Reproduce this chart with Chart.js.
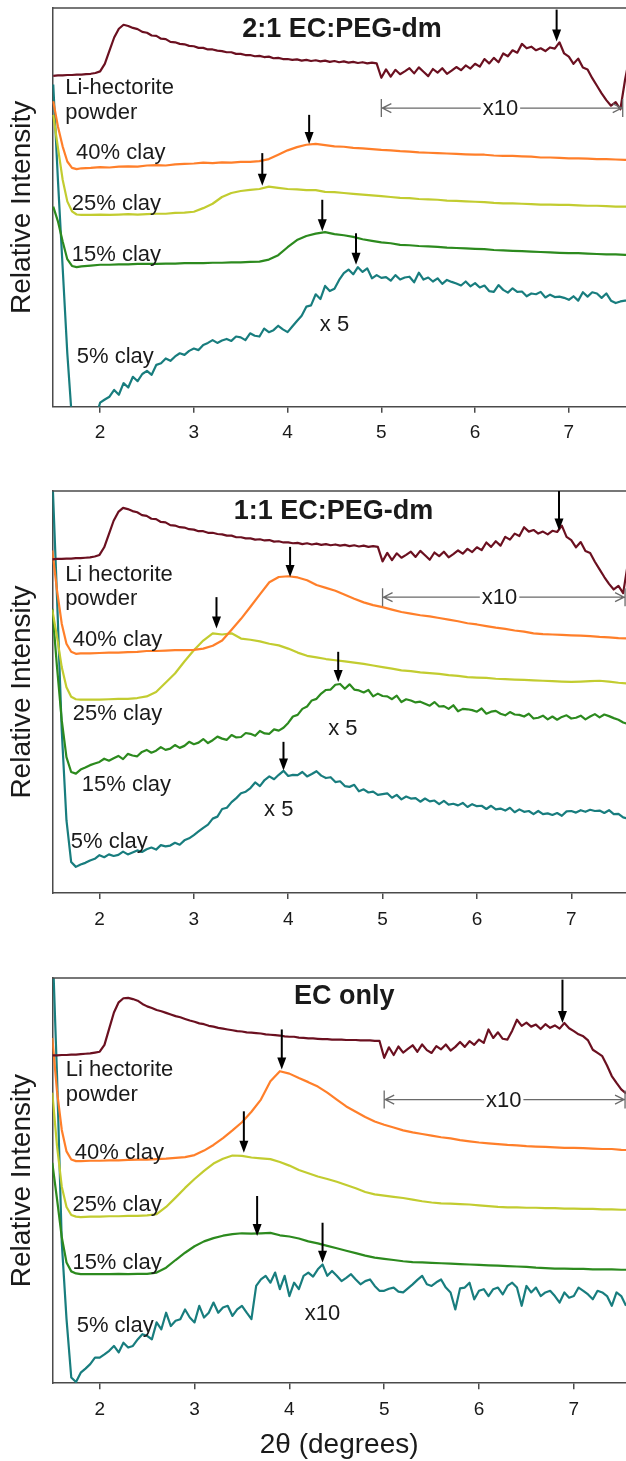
<!DOCTYPE html>
<html>
<head>
<meta charset="utf-8">
<script src="https://cdn.jsdelivr.net/npm/chart.js@4.4.1/dist/chart.umd.min.js"></script>
<style>
  html, body { margin: 0; padding: 0; background: #fff; }
  #wrap { position: relative; width: 626px; height: 1461px; overflow: hidden; }
  .panel { position: absolute; left: 0; width: 626px; }
  #p1 { top: 0; height: 455px; }
  #p2 { top: 480px; height: 460px; }
  #p3 { top: 960px; height: 501px; }
</style>
</head>
<body>
<div id="wrap">
  <div class="panel" id="p1"><canvas id="c1"></canvas></div>
  <div class="panel" id="p2"><canvas id="c2"></canvas></div>
  <div class="panel" id="p3"><canvas id="c3"></canvas></div>
</div>
<script>
// --- x grids (2theta, degrees) ---
const X_FINE = [
  1.50, 1.55, 1.60, 1.65, 1.70, 1.75, 1.80, 1.85, 1.90, 1.95,
  2.00, 2.05, 2.10, 2.15, 2.20, 2.25, 2.30, 2.35, 2.40, 2.45,
  2.50, 2.55, 2.60, 2.65, 2.70, 2.75, 2.80, 2.85, 2.90, 2.95,
  3.00, 3.05, 3.10, 3.15, 3.20, 3.25, 3.30, 3.35, 3.40, 3.45,
  3.50, 3.55, 3.60, 3.65, 3.70, 3.75, 3.80, 3.85, 3.90, 3.95,
  4.00, 4.05, 4.10, 4.15, 4.20, 4.25, 4.30, 4.35, 4.40, 4.45,
  4.50, 4.55, 4.60, 4.65, 4.70, 4.75, 4.80, 4.85, 4.90, 4.95,
  5.00, 5.05, 5.10, 5.15, 5.20, 5.25, 5.30, 5.35, 5.40, 5.45,
  5.50, 5.55, 5.60, 5.65, 5.70, 5.75, 5.80, 5.85, 5.90, 5.95,
  6.00, 6.05, 6.10, 6.15, 6.20, 6.25, 6.30, 6.35, 6.40, 6.45,
  6.50, 6.55, 6.60, 6.65, 6.70, 6.75, 6.80, 6.85, 6.90, 6.95,
  7.00, 7.05, 7.10, 7.15, 7.20, 7.25, 7.30, 7.35, 7.40, 7.45,
  7.50, 7.55, 7.60, 7.65
];
const X_SMOOTH = [
  1.5, 1.55, 1.6, 1.65, 1.7, 1.75, 1.8,
  1.9, 2.0, 2.1, 2.2, 2.3, 2.4, 2.5, 2.6, 2.7, 2.8, 2.9,
  3.0, 3.1, 3.2, 3.3, 3.4, 3.5, 3.6, 3.7, 3.8, 3.9,
  4.0, 4.1, 4.2, 4.3, 4.4, 4.5, 4.6, 4.7, 4.8, 4.9,
  5.0, 5.1, 5.2, 5.3, 5.4, 5.5, 5.6, 5.7, 5.8, 5.9,
  6.0, 6.1, 6.2, 6.3, 6.4, 6.5, 6.6, 6.7, 6.8, 6.9,
  7.0, 7.1, 7.2, 7.3, 7.4, 7.5, 7.6, 7.7
];
const X_TICKS = [2, 3, 4, 5, 6, 7];

// --- Li-hectorite powder (x10 above 5 deg) ---
const LI_P12 = [
  83.0, 83.1, 83.1, 83.2, 83.2, 83.3, 83.3, 83.4, 83.5, 83.7,
  84.1, 86.0, 89.3, 92.6, 94.8, 95.8, 95.5, 95.0, 94.7, 94.0,
  93.8, 93.1, 93.0, 92.3, 92.2, 91.5, 91.4, 91.0, 90.9, 90.5,
  90.4, 90.0, 90.0, 89.6, 89.6, 89.3, 89.2, 88.9, 88.9, 88.5,
  88.5, 88.2, 88.2, 87.9, 88.0, 87.7, 87.8, 87.4, 87.5, 87.2,
  87.2, 87.0, 87.1, 86.8, 87.0, 86.7, 86.9, 86.6, 86.8, 86.5,
  86.7, 86.4, 86.6, 86.3, 86.5, 86.2, 86.4, 86.1, 86.3, 86.1,
  82.5, 84.6, 82.8, 84.5, 83.4, 84.1, 84.9, 83.6, 85.1, 84.0,
  82.9, 84.7, 83.8, 84.9, 83.5, 84.3, 85.2, 84.4, 85.6, 84.8,
  86.0, 85.3, 87.2, 86.1, 87.5, 86.4, 88.6, 87.9, 89.4, 88.8,
  91.0, 89.9, 90.3, 89.4, 89.9, 89.2, 90.1, 89.8, 91.4, 88.6,
  87.8, 86.0, 87.3, 85.1, 84.6, 82.4, 80.5, 78.6, 76.9, 75.5,
  76.4, 74.6, 82.0, 88.0
];
const LI_P3 = [
  80.9, 80.9, 81.0, 81.0, 81.1, 81.1, 81.2, 81.3, 81.4, 81.6,
  81.8, 83.5, 87.5, 91.5, 94.0, 95.0, 95.1, 94.8, 94.4, 93.6,
  93.0, 92.6, 92.1, 91.8, 91.4, 91.0, 90.6, 90.3, 89.9, 89.5,
  89.2, 88.8, 88.6, 88.2, 88.0, 87.7, 87.5, 87.3, 87.1, 86.9,
  86.8, 86.6, 86.5, 86.4, 86.3, 86.1, 86.0, 85.9, 85.8, 85.6,
  85.5, 85.5, 85.3, 85.2, 85.1, 85.1, 85.0, 84.9, 84.9, 84.8,
  84.8, 84.8, 84.7, 84.7, 84.7, 84.6, 84.6, 84.6, 84.5, 84.5,
  80.3, 82.9, 81.0, 83.1, 81.6, 82.5, 83.4, 81.8, 83.6, 82.2,
  81.5, 83.2, 82.4, 83.6, 82.1, 83.0, 84.2, 83.0, 84.4, 83.5,
  84.8, 84.0, 87.3, 85.2, 86.6, 85.0, 84.8, 87.0, 89.7, 88.2,
  89.0, 88.0, 88.5, 87.4, 88.6, 87.7, 88.3, 87.5, 88.9, 87.6,
  86.9, 86.1, 85.6, 84.6, 82.3, 81.5, 80.7, 78.4, 75.8, 74.1,
  72.5, 71.5, 70.5, 70.0
];

// --- 2:1 EC:PEG-dm ---
const P1_40 = [
  76.6, 70.3, 65.3, 61.5, 59.9, 59.6, 59.8,
  59.9, 60.1, 60.0, 60.2, 60.3, 60.2, 60.5, 60.6, 60.5, 60.8, 60.9,
  61.0, 61.2, 61.1, 61.3, 61.2, 61.4, 61.4, 61.6, 62.1, 63.2,
  64.3, 65.1, 65.7, 65.9, 65.6, 65.3, 65.2, 64.9, 64.8, 64.6,
  64.4, 64.3, 64.1, 64.0, 63.8, 63.7, 63.6, 63.5, 63.4, 63.3,
  63.2, 63.2, 63.0, 62.9, 62.9, 62.8, 62.7, 62.5, 62.5, 62.4,
  62.3, 62.3, 62.2, 62.1, 62.1, 62.0, 61.9, 61.9
];
const P1_25 = [
  73.2, 65.0, 57.0, 51.5, 49.0, 48.2, 48.1,
  48.1, 48.2, 48.1, 48.2, 48.3, 48.2, 48.3, 48.4, 48.4, 48.6, 48.7,
  48.9, 49.8, 50.9, 52.6, 53.6, 54.1, 54.4, 54.6, 55.2, 54.9,
  54.6, 54.5, 54.3, 54.3, 53.9, 53.8, 53.6, 53.4, 53.2, 53.0,
  52.8, 52.6, 52.4, 52.3, 52.1, 52.0, 51.9, 51.7, 51.6, 51.5,
  51.4, 51.3, 51.1, 51.0, 51.0, 50.9, 50.8, 50.7, 50.7, 50.6,
  50.6, 50.5, 50.4, 50.4, 50.3, 50.2, 50.2, 50.1
];
const P1_15 = [
  50.2, 46.5, 41.5, 37.0, 35.3, 35.0, 35.2,
  35.4, 35.6, 35.6, 35.7, 35.7, 35.8, 35.8, 35.8, 35.9, 35.9, 36.0,
  36.0, 36.0, 36.1, 36.1, 36.2, 36.2, 36.3, 36.4, 36.9, 38.0,
  40.0, 41.8, 42.8, 43.4, 43.8, 43.3, 43.0, 42.6, 42.0, 41.6,
  41.2, 41.0, 40.6, 40.5, 40.3, 40.2, 40.1, 39.9, 39.8, 39.7,
  39.6, 39.5, 39.3, 39.2, 39.1, 39.0, 38.9, 38.8, 38.7, 38.6,
  38.5, 38.5, 38.4, 38.3, 38.2, 38.2, 38.1, 38.1
];
const P1_5 = [
  80.8, 56.9, 35.1, 13.4, -3.3, -8.0, -10.0, -10.0, -8.0, -3.0,
  1.0, 1.8, 2.5, 4.2, 3.0, 5.9, 4.8, 7.5, 6.4, 8.2,
  9.0, 8.0, 10.5, 10.9, 12.1, 11.5, 12.6, 13.4, 13.0, 14.0,
  14.6, 14.2, 15.5, 16.0, 16.7, 16.0, 16.6, 17.0, 16.5, 17.6,
  17.4, 16.7, 18.4, 17.8, 17.6, 19.6, 18.7, 19.2, 20.3, 19.4,
  18.7, 20.1, 21.5, 22.8, 25.1, 25.4, 28.2, 27.0, 30.3, 29.0,
  29.6, 31.8, 33.5, 34.4, 33.2, 35.0, 33.8, 34.7, 32.2, 33.0,
  32.3, 32.5, 31.6, 33.0, 31.9, 32.4, 32.6, 31.2, 33.6, 31.9,
  32.4, 31.4, 32.2, 30.8, 31.8, 31.3, 30.9, 30.4, 31.4, 30.2,
  31.0, 29.9, 30.4, 29.0, 28.8, 30.5, 29.3, 28.6, 29.7, 28.8,
  28.9, 27.7, 28.4, 28.2, 28.8, 27.4, 28.1, 27.5, 27.6, 27.3,
  26.8, 27.7, 26.6, 28.7, 27.6, 28.7, 28.4, 27.3, 28.4, 26.6,
  26.0, 26.4, 26.6, 26.5
];

// --- 1:1 EC:PEG-dm ---
const P2_40 = [
  85.2, 75.3, 67.0, 62.0, 60.0, 59.5, 59.6,
  59.6, 59.7, 59.8, 59.8, 59.9, 60.0, 60.2, 60.2, 60.3, 60.4, 60.4,
  60.5, 60.8, 61.5, 62.8, 65.5, 68.2, 71.2, 74.3, 77.3, 78.6,
  78.8, 78.5, 77.8, 76.6, 75.9, 75.2, 74.2, 73.2, 72.3, 71.6,
  71.1, 70.5, 69.9, 69.5, 69.1, 68.8, 68.4, 68.0, 67.6, 67.1,
  66.8, 66.4, 66.0, 65.7, 65.3, 65.0, 64.6, 64.4, 64.3, 64.2,
  64.1, 64.0, 63.9, 63.7, 63.6, 63.4, 63.3, 63.2
];
const P2_25 = [
  70.5, 63.7, 56.2, 51.2, 48.8, 48.2, 48.1,
  48.1, 48.1, 48.2, 48.3, 48.3, 48.5, 48.9, 50.0, 52.3, 54.6, 57.6,
  60.4, 62.8, 64.6, 64.3, 64.6, 63.3, 63.0, 62.6, 62.0, 61.6,
  60.8, 59.8, 59.0, 58.6, 58.2, 57.9, 57.6, 57.3, 57.0, 56.6,
  56.2, 55.8, 55.4, 55.2, 54.9, 54.7, 54.5, 54.2, 54.0, 53.7,
  53.6, 53.5, 53.3, 53.2, 53.1, 53.0, 52.9, 52.8, 52.7, 52.6,
  52.5, 52.6, 52.7, 52.8, 52.6, 52.3, 52.1, 52.0
];
const P2_15 = [
  70.7, 56.2, 43.0, 33.8, 30.1, 29.7, 30.7, 31.2, 31.8, 32.2,
  32.6, 33.4, 32.9, 33.5, 34.1, 33.3, 34.6, 34.2, 34.0, 35.1,
  35.6, 34.9, 35.4, 36.3, 35.6, 35.9, 36.8, 36.1, 36.6, 37.6,
  37.0, 37.4, 38.3, 37.3, 38.0, 38.9, 38.4, 38.1, 39.3, 38.7,
  38.8, 39.8, 39.6, 39.1, 40.3, 39.7, 39.6, 40.7, 40.4, 41.1,
  42.3, 43.9, 44.3, 45.8, 46.4, 47.9, 48.3, 49.6, 50.5, 50.6,
  51.8, 52.0, 50.8, 51.9, 50.6, 50.4, 49.9, 50.5, 48.9, 49.6,
  49.0, 48.9, 48.2, 49.1, 47.5, 48.2, 47.9, 47.4, 47.6, 47.1,
  46.6, 47.5, 46.4, 46.5, 45.8, 46.7, 45.2, 45.8, 45.7, 45.5,
  45.1, 45.9, 44.6, 45.1, 45.3, 44.6, 44.2, 45.0, 44.4, 44.3,
  43.9, 44.6, 43.4, 43.6, 44.1, 43.2, 43.9, 43.1, 43.8, 44.2,
  43.4, 43.6, 44.1, 43.2, 43.9, 44.5, 43.7, 44.4, 44.0, 43.5,
  43.1, 42.4, 42.1, 42.0
];
const P2_5 = [
  104.0, 73.6, 40.5, 18.1, 7.7, 6.5, 7.1, 7.5, 8.1, 8.5,
  9.4, 8.9, 9.6, 9.2, 9.5, 10.3, 9.6, 10.1, 10.6, 10.2,
  10.9, 11.3, 10.8, 11.9, 11.6, 11.8, 12.5, 12.0, 13.1, 13.6,
  14.4, 15.3, 16.2, 17.0, 18.5, 19.0, 20.9, 21.2, 22.6, 23.6,
  24.8, 25.2, 26.1, 27.5, 26.6, 28.1, 29.0, 28.3, 29.4, 30.4,
  29.1, 29.4, 29.3, 30.1, 29.0, 29.6, 30.3, 29.2, 28.6, 28.8,
  27.6, 27.8, 26.6, 26.4, 26.9, 25.3, 25.8, 25.0, 25.2, 24.4,
  24.6, 24.8, 23.7, 24.4, 23.3, 24.0, 23.5, 23.6, 22.7, 23.5,
  22.8, 23.0, 22.1, 22.9, 22.0, 22.2, 21.8, 22.4, 21.4, 22.1,
  21.6, 21.7, 20.9, 21.7, 20.8, 21.0, 20.5, 21.2, 20.1, 20.8,
  20.2, 20.4, 19.6, 20.4, 19.6, 19.8, 19.4, 19.9, 19.2, 20.3,
  20.4, 20.0, 20.6, 20.2, 20.7, 20.4, 20.5, 19.9, 20.6, 19.6,
  19.7, 18.8, 18.5, 18.6
];

// --- EC only ---
const P3_40 = [
  85.2, 72.0, 62.5, 57.2, 55.2, 54.8, 54.8,
  54.9, 54.9, 55.0, 55.0, 55.1, 55.2, 55.2, 55.3, 55.4, 55.6, 55.8,
  56.3, 57.4, 58.8, 60.5, 62.4, 64.4, 67.0, 70.0, 74.5, 77.0,
  76.4, 75.3, 74.3, 73.2, 71.7, 70.0, 68.3, 67.0, 65.7, 64.6,
  63.8, 63.1, 62.4, 61.9, 61.5, 61.1, 60.7, 60.4, 60.0, 59.7,
  59.4, 59.2, 59.0, 58.8, 58.7, 58.5, 58.4, 58.3, 58.2, 58.1,
  58.1, 58.0, 57.9, 57.8, 57.8, 57.6, 57.5, 57.4
];
const P3_25 = [
  71.7, 58.5, 48.5, 43.5, 41.5, 41.1, 41.0,
  41.1, 41.1, 41.2, 41.2, 41.3, 41.3, 41.4, 41.7, 43.5, 45.8, 48.2,
  50.4, 52.4, 54.2, 55.4, 56.2, 56.1, 55.7, 55.5, 55.3, 54.6,
  53.7, 52.6, 51.8, 51.0, 50.4, 49.7, 48.9, 48.1, 47.2, 46.6,
  46.3, 46.0, 45.7, 45.3, 44.9, 44.6, 44.4, 44.3, 44.2, 44.1,
  43.9, 43.7, 43.5, 43.4, 43.4, 43.3, 43.3, 43.2, 43.2, 43.1,
  43.1, 43.0, 43.0, 42.9, 42.9, 42.8, 42.8, 42.7
];
const P3_15 = [
  54.4, 45.4, 36.0, 29.8, 27.6, 27.1, 26.9,
  26.9, 26.9, 26.9, 27.0, 26.9, 27.0, 27.0, 27.3, 28.5, 30.4, 32.2,
  33.8, 35.0, 35.8, 36.4, 36.8, 37.0, 36.9, 37.0, 37.1, 36.5,
  36.2, 35.7, 35.0, 34.5, 33.9, 33.3, 32.7, 32.1, 31.5, 31.0,
  30.7, 30.4, 30.1, 29.9, 29.8, 29.7, 29.6, 29.5, 29.4, 29.3,
  29.2, 29.1, 29.0, 28.9, 28.8, 28.7, 28.5, 28.4, 28.3, 28.3,
  28.2, 28.2, 28.1, 28.1, 28.1, 28.0, 28.0, 28.0
];
const P3_5 = [
  110.0, 75.8, 34.7, 15.8, 1.4, 0.3, 2.6, 3.6, 4.7, 6.3,
  6.3, 7.1, 8.0, 9.2, 7.6, 10.0, 8.8, 9.2, 10.8, 12.1,
  11.7, 10.8, 15.0, 13.3, 17.4, 14.1, 15.4, 15.8, 18.2, 16.2,
  15.0, 19.1, 16.2, 17.4, 19.9, 17.4, 18.7, 19.1, 16.6, 18.2,
  19.1, 17.4, 15.8, 24.0, 25.6, 26.5, 24.8, 27.3, 23.2, 26.5,
  21.5, 24.8, 23.2, 26.5, 27.3, 26.3, 28.1, 29.3, 26.5, 27.7,
  26.5, 25.2, 26.0, 26.9, 25.6, 24.4, 25.2, 25.6, 24.0, 22.8,
  22.8, 23.3, 23.6, 22.6, 22.4, 23.4, 24.4, 25.5, 26.5, 24.4,
  24.0, 24.9, 25.6, 23.6, 22.4, 18.2, 23.4, 23.6, 24.8, 20.7,
  22.8, 23.2, 21.5, 23.2, 23.6, 21.9, 24.0, 24.8, 23.6, 19.1,
  24.0, 22.4, 23.6, 21.5, 22.4, 22.8, 21.5, 19.9, 22.4, 21.1,
  21.5, 23.6, 22.8, 21.9, 20.7, 22.8, 22.4, 21.5, 19.1, 22.4,
  21.5, 19.1, 20.7, 20.7
];

// --- annotations (data units): [x, arrow top, arrow tip] ---
const ARROWS_P1 = [[6.87, 99.6, 91.6], [4.23, 73.2, 65.9], [3.73, 63.6, 55.4], [4.37, 51.9, 44.0], [4.73, 43.5, 35.6]];
const ARROWS_P2 = [[6.87, 100, 90.2], [4.02, 86.1, 78.6], [3.24, 73.6, 65.8], [4.53, 60.0, 52.5], [3.95, 37.6, 30.5]];
const ARROWS_P3 = [[6.88, 99.6, 88.9], [3.92, 87.3, 77.4], [3.52, 67.1, 56.9], [3.66, 46.2, 36.3], [4.35, 39.6, 29.7]];

const LABELS_P1 = [['Li-hectorite', 1.627, 79.9], ['powder', 1.627, 73.6], ['40% clay', 1.744, 63.6], ['25% clay', 1.698, 50.9], ['15% clay', 1.698, 38.1], ['5% clay', 1.751, 12.6]];
const LABELS_P2 = [['Li hectorite', 1.636, 79.0], ['powder', 1.636, 73.2], ['40% clay', 1.718, 62.9], ['25% clay', 1.718, 44.6], ['15% clay', 1.813, 26.8], ['5% clay', 1.696, 12.7]];
const LABELS_P3 = [['Li hectorite', 1.641, 77.4], ['powder', 1.641, 71.2], ['40% clay', 1.736, 56.9], ['25% clay', 1.712, 44.1], ['15% clay', 1.712, 29.7], ['5% clay', 1.757, 14.1]];

const NOTES_P1 = [['x 5', 4.50, 20.5]];
const NOTES_P2 = [['x 5', 4.58, 40.9], ['x 5', 3.90, 20.6]];
const NOTES_P3 = [['x10', 4.35, 17.0]];

const TITLES = ['2:1 EC:PEG-dm', '1:1 EC:PEG-dm', 'EC only'];
const TITLE_POS = [[4.58, 94.6], [4.48, 94.8], [4.58, 95.5]];

const COLORS = { li: '#6b1020', c40: '#ff7f2a', c25: '#c2cc30', c15: '#2c8a1e', c5: '#187d7e' };
const AXIS_COLOR = '#4a4a4a';
const FONT = "'Liberation Sans', Arial, sans-serif";

Chart.defaults.font.family = FONT;
Chart.defaults.color = '#1a1a1a';

function pts(xs, ys) {
  return ys.map((v, i) => ({ x: xs[i], y: v }));
}

// draws top frame, arrows, the x10 bracket and the text labels
const annotatePlugin = {
  id: 'annotate',
  afterDatasetsDraw(chart, args, opts) {
    const { ctx, chartArea: a, scales: { x, y } } = chart;
    ctx.save();
    ctx.strokeStyle = AXIS_COLOR;
    ctx.lineWidth = 1.5;
    ctx.beginPath();
    ctx.moveTo(a.left, a.top);
    ctx.lineTo(a.right, a.top);
    ctx.stroke();

    // x10 bracket
    const b = opts.bracket;
    const by = y.getPixelForValue(b.y);
    const bx1 = x.getPixelForValue(b.from);
    const bx2 = x.getPixelForValue(b.to);
    ctx.strokeStyle = '#6a6a6a';
    ctx.lineWidth = 1.3;
    ctx.beginPath();
    ctx.moveTo(bx1, by); ctx.lineTo(bx2, by);
    ctx.moveTo(bx1, by - 9); ctx.lineTo(bx1, by + 9);
    ctx.moveTo(bx2, by - 9); ctx.lineTo(bx2, by + 9);
    ctx.moveTo(bx1 + 10, by - 4.5); ctx.lineTo(bx1 + 1, by); ctx.lineTo(bx1 + 10, by + 4.5);
    ctx.moveTo(bx2 - 10, by - 4.5); ctx.lineTo(bx2 - 1, by); ctx.lineTo(bx2 - 10, by + 4.5);
    ctx.stroke();
    ctx.font = '22px ' + FONT;
    const tx = x.getPixelForValue(b.labelX);
    const tw = ctx.measureText(b.label).width;
    ctx.fillStyle = '#fff';
    ctx.fillRect(tx - tw / 2 - 2, by - 3, tw + 4, 6);
    ctx.fillStyle = '#1a1a1a';
    ctx.textAlign = 'center';
    ctx.textBaseline = 'middle';
    ctx.fillText(b.label, tx, by + 1);

    // peak arrows
    opts.arrows.forEach(([ax, yTop, yTip]) => {
      const px = x.getPixelForValue(ax);
      const p1 = y.getPixelForValue(yTop);
      const p2 = y.getPixelForValue(yTip);
      ctx.strokeStyle = '#000';
      ctx.lineWidth = 2;
      ctx.beginPath();
      ctx.moveTo(px, p1);
      ctx.lineTo(px, p2 - 9);
      ctx.stroke();
      ctx.fillStyle = '#000';
      ctx.beginPath();
      ctx.moveTo(px - 4.5, p2 - 12);
      ctx.lineTo(px + 4.5, p2 - 12);
      ctx.lineTo(px, p2);
      ctx.closePath();
      ctx.fill();
    });

    // curve labels
    ctx.fillStyle = '#1a1a1a';
    ctx.font = '22px ' + FONT;
    ctx.textBaseline = 'middle';
    ctx.textAlign = 'left';
    opts.labels.forEach(([t, lx, ly]) => ctx.fillText(t, x.getPixelForValue(lx), y.getPixelForValue(ly)));
    ctx.textAlign = 'center';
    opts.notes.forEach(([t, lx, ly]) => ctx.fillText(t, x.getPixelForValue(lx), y.getPixelForValue(ly)));

    // panel title
    ctx.font = 'bold 27px ' + FONT;
    ctx.fillText(opts.title, x.getPixelForValue(opts.titlePos[0]), y.getPixelForValue(opts.titlePos[1]));
    ctx.restore();
  }
};

function makeChart(canvasId, p) {
  const scaleX = {
    type: 'linear',
    min: p.xMin,
    max: p.xMax,
    afterBuildTicks: (scale) => { scale.ticks = X_TICKS.map(v => ({ value: v })); },
    ticks: { font: { size: 19 }, padding: 9, maxRotation: 0, autoSkip: false, color: '#1a1a1a' },
    grid: { drawOnChartArea: false, drawTicks: true, tickLength: 6, color: AXIS_COLOR, lineWidth: 1.5 },
    border: { color: AXIS_COLOR, width: 1.5 },
    title: { display: p.xTitle, text: '2\u03B8 (degrees)', font: { size: 28, lineHeight: 1.0 }, padding: { top: 1, bottom: 2 }, color: '#1a1a1a' }
  };
  return new Chart(document.getElementById(canvasId), {
    type: 'line',
    data: {
      datasets: p.series.map(([xs, ys, c]) => ({
        data: pts(xs, ys),
        borderColor: c,
        borderWidth: 2.2,
        pointRadius: 0,
        tension: 0,
        fill: false,
        borderJoinStyle: 'round'
      }))
    },
    options: {
      responsive: true,
      maintainAspectRatio: false,
      animation: false,
      layout: { padding: p.pad },
      plugins: {
        legend: { display: false },
        tooltip: { enabled: false },
        annotate: { arrows: p.arrows, labels: p.labels, notes: p.notes, bracket: p.bracket, title: p.title, titlePos: p.titlePos }
      },
      scales: {
        x: scaleX,
        y: {
          min: 0,
          max: 100,
          ticks: { display: false },
          grid: { display: false, drawTicks: false },
          border: { color: AXIS_COLOR, width: 1.5 },
          title: { display: true, text: 'Relative Intensity', font: { size: 28 }, padding: { top: 5, bottom: 13.7 }, color: '#1a1a1a' }
        }
      }
    },
    plugins: [annotatePlugin]
  });
}

// tick-label font 19px -> x axis height = 6 + 22.8 + 2*9
makeChart('c1', {
  xMin: 1.49, xMax: 7.61, xTitle: false,
  pad: { top: 8, bottom: 1.5, left: 0, right: 0 },
  series: [[X_FINE, LI_P12, COLORS.li], [X_SMOOTH, P1_40, COLORS.c40], [X_SMOOTH, P1_25, COLORS.c25], [X_SMOOTH, P1_15, COLORS.c15], [X_FINE, P1_5, COLORS.c5]],
  arrows: ARROWS_P1, labels: LABELS_P1, notes: NOTES_P1,
  bracket: { y: 74.9, from: 5, to: 7.575, label: 'x10', labelX: 6.27 },
  title: TITLES[0], titlePos: TITLE_POS[0]
});
makeChart('c2', {
  xMin: 1.50, xMax: 7.58, xTitle: false,
  pad: { top: 11, bottom: 0.2, left: 0, right: 0 },
  series: [[X_FINE, LI_P12, COLORS.li], [X_SMOOTH, P2_40, COLORS.c40], [X_SMOOTH, P2_25, COLORS.c25], [X_FINE, P2_15, COLORS.c15], [X_FINE, P2_5, COLORS.c5]],
  arrows: ARROWS_P2, labels: LABELS_P2, notes: NOTES_P2,
  bracket: { y: 73.6, from: 5, to: 7.57, label: 'x10', labelX: 6.24 },
  title: TITLES[1], titlePos: TITLE_POS[1]
});
makeChart('c3', {
  xMin: 1.50, xMax: 7.55, xTitle: true,
  pad: { top: 18, bottom: 0, left: 0, right: 0 },
  series: [[X_FINE, LI_P3, COLORS.li], [X_SMOOTH, P3_40, COLORS.c40], [X_SMOOTH, P3_25, COLORS.c25], [X_SMOOTH, P3_15, COLORS.c15], [X_FINE, P3_5, COLORS.c5]],
  arrows: ARROWS_P3, labels: LABELS_P3, notes: NOTES_P3,
  bracket: { y: 70.0, from: 5, to: 7.54, label: 'x10', labelX: 6.26 },
  title: TITLES[2], titlePos: TITLE_POS[2]
});
</script>
</body>
</html>
